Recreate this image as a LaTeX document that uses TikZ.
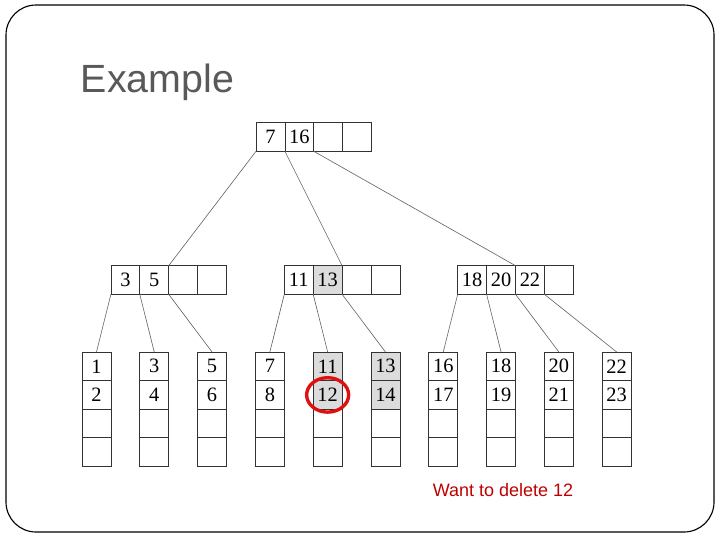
\documentclass[tikz,border=0pt]{standalone}
\usepackage{fontspec}
\setmainfont{Liberation Serif}
\setsansfont{Liberation Sans}
\usepackage{xcolor}
\usetikzlibrary{positioning, shapes.geometric}
\definecolor{titlegray}{HTML}{595959}
\definecolor{noteRed}{HTML}{C00000}
\definecolor{markRed}{HTML}{E01010}
\definecolor{keygray}{HTML}{DCDCDC}

\begin{document}
\begin{tikzpicture}[
    x=0.025cm, y=-0.025cm,
    node distance=0pt,
    key/.style={rectangle, draw=black!80, line width=0.5pt, fill=#1,
                minimum width=0.7224cm, minimum height=0.715cm,
                inner sep=0pt, outer sep=0pt,
                font=\fontsize{14.5}{16}\selectfont},
    key/.default=white,
    link/.style={draw=black!60, line width=0.45pt},
    note/.style={font=\sffamily\fontsize{12.8}{15}\selectfont, text=noteRed}
]
\useasboundingbox (0,0) rectangle (720,540);

% Slide frame and title
\draw[line width=0.8pt, rounded corners=0.75cm] (6,5) rectangle (714,532);
\node[anchor=west, font=\sffamily\fontsize{28}{32}\selectfont, text=titlegray]
    (title) at (76,82) {Example};

% Root
\node[key] at (270.45,137) (r1) {7};
\node[key, right=of r1] (r2) {16};
\node[key, right=of r2] (r3) {};
\node[key, right=of r3] (r4) {};

% Inner nodes
\node[key] at (125.35,280) (a1) {3};
\node[key, right=of a1] (a2) {5};
\node[key, right=of a2] (a3) {};
\node[key, right=of a3] (a4) {};

\node[key] at (298.75,280) (b1) {11};
\node[key=keygray, right=of b1] (b2) {13};
\node[key, right=of b2] (b3) {};
\node[key, right=of b3] (b4) {};

\node[key] at (472.15,280) (c1) {18};
\node[key, right=of c1] (c2) {20};
\node[key, right=of c2] (c3) {22};
\node[key, right=of c3] (c4) {};

% Leaves
\foreach \i/\ka/\kb/\shade in {1/1/2/white, 2/3/4/white, 3/5/6/white,
    4/7/8/white, 5/11/12/keygray, 6/13/14/keygray, 7/16/17/white,
    8/18/19/white, 9/20/21/white, 10/22/23/white} {
  \node[key=\shade] at ({96.45+57.8*(\i-1)},366.3) (l\i-1) {\ka};
  \node[key=\shade, below=of l\i-1] (l\i-2) {\kb};
  \node[key, below=of l\i-2] (l\i-3) {};
  \node[key, below=of l\i-3] (l\i-4) {};
}

% Pointers
\draw[link] (r1.south west) -- (a2.north east);
\draw[link] (r2.south west) -- (b3.north west);
\draw[link] (r3.south west) -- (c2.north east);

\draw[link] (a1.south west) -- (l1-1.north);
\draw[link] (a2.south west) -- (l2-1.north);
\draw[link] (a3.south west) -- (l3-1.north);

\draw[link] (b1.south west) -- (l4-1.north);
\draw[link] (b2.south west) -- (l5-1.north);
\draw[link] (b3.south west) -- (l6-1.north);

\draw[link] (c1.south west) -- (l7-1.north);
\draw[link] (c2.south west) -- (l8-1.north);
\draw[link] (c3.south west) -- (l9-1.north);
\draw[link] (c4.south west) -- (l10-1.north);

% Key to delete
\node[draw=markRed, line width=2.4pt, ellipse, minimum width=1.05cm,
      minimum height=0.86cm] at (l5-2) (target) {};
\node[note] at (503,490) (msg) {Want to delete 12};

\end{tikzpicture}
\end{document}
